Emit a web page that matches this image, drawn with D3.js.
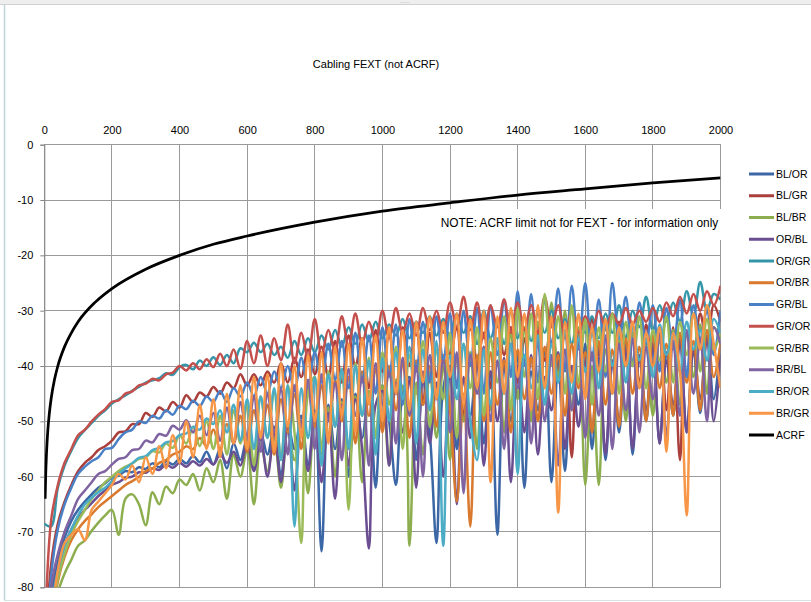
<!DOCTYPE html>
<html><head><meta charset="utf-8">
<script src="https://cdn.jsdelivr.net/npm/d3@7"></script>
<style>body{margin:0;background:#fff}svg{display:block}</style>
</head><body><svg id="c" width="811" height="602"></svg>
<script>
// ---- data ----
const freqs = d3.range(0, 2001, 20); // MHz, 101 points
const xTicks = [0,200,400,600,800,1000,1200,1400,1600,1800,2000];
const yTicks = [0,-10,-20,-30,-40,-50,-60,-70,-80];
const seriesNames = ["BL/OR","BL/GR","BL/BR","OR/BL","OR/GR","OR/BR","GR/BL","GR/OR","GR/BR","BR/BL","BR/OR","BR/GR"];
const seriesColors = ["#3C67A6","#AA3F3C","#8CAE4E","#6B4E92","#3596AA","#D8792E","#4A80C6","#C4504D","#9BBB59","#8064A2","#4BACC6","#F79646"];

const BL_OR = [-97,-82,-75.5,-71,-68,-66,-64.5,-63.2,-62,-61.2,
-60.2,-59.8,-59,-59.2,-58.3,-58.6,-57.6,-58.3,-57.2,-57.8,
-56.8,-57.6,-56.2,-57.4,-55.5,-57.8,-55,-58.5,-54,-57,
-53,-58.5,-52,-56,-51,-60,-50.5,-55,-49,-58,
-48,-73.5,-47,-55,-46,-60,-45,-53,-44.5,-62,
-43.5,-50,-61.5,-45,-42,-57,-43,-52,-72,-44,
-40,-55,-42.5,-49,-39,-54,-41,-70.5,-40,-50,
-38,-62,-41,-48,-37,-61,-39,-59,-40,-47,
-36,-55,-38.5,-57,-39,-52,-35.5,-56,-38,-50,
-36,-54,-37.5,-49,-35,-52,-37,-48.5,-34.5,-46,
-36];
const BL_GR = [-95,-76,-68.5,-64.5,-61.5,-59,-57.5,-56.5,-55.2,-54.5,
-53.5,-52,-51.8,-50.5,-50.5,-48.5,-49.2,-47.5,-48.2,-46.5,
-47.5,-45.3,-46.5,-44.8,-45.5,-43.8,-45,-43,-44,-41.5,
-43.5,-41.5,-43.5,-41,-43,-39.5,-43,-38.5,-42,-37,
-41.5,-36.5,-42,-35.5,-43,-34.5,-40,-35,-44,-33.5,
-41,-34,-45,-33,-40,-32,-47,-34,-42,-31.5,
-38,-33,-50,-31,-39,-34,-44,-31.5,-38,-33,
-43,-35,-48,-34,-39,-32,-41,-33.5,-56.5,-34,
-40,-31.5,-38,-33,-45,-32,-39,-34,-43,-32.5,
-40,-35,-48,-33,-57,-34,-38,-30.5,-36,-29,
-32];
const BL_BR = [-99,-88,-81,-77.5,-75,-72.5,-71.5,-69.8,-68.3,-67,
-66,-70.5,-64,-63.2,-65,-68.8,-62.8,-65,-61.8,-63,
-60.5,-61.5,-59.5,-62.5,-58.5,-61,-57,-64,-56,-60,
-55,-65,-54,-59,-53,-62,-51.5,-57,-50.5,-63,
-49,-56,-47.5,-60,-46.5,-55,-45.5,-61,-44.5,-53,
-43.5,-58,-42.5,-44,-72.5,-43,-56,-41,-53,-40,
-57,-38.5,-50,-37.5,-55,-36.5,-48,-35,-52,-34,
-46,-33,-50,-32,-44,-28.5,-42,-30,-48,-33,
-61.5,-40,-61.5,-37,-45,-35,-50,-34,-44,-36,
-49,-35,-43,-33.5,-47,-34,-42,-32.5,-45,-33,
-35];
const OR_BL = [-99,-84,-77,-72.5,-69.5,-67.5,-66,-64.8,-63.5,-62.5,
-61.5,-61,-60.2,-60,-59.2,-59.3,-58.5,-58.8,-57.8,-58.4,
-57.5,-58.2,-57.2,-58,-56.8,-57.8,-56,-57.5,-55.5,-58,
-54,-59,-53,-60,-52,-61,-51,-62.5,-50,-59,
-49,-61,-48.5,-64,-47,-58,-46,-55,-73,-47,
-44.5,-58,-43,-52,-42.5,-62,-41,-54,-43,-60,
-40.5,-65,-42,-53,-39.5,-58,-41,-50,-38.5,-61,
-40,-52,-38,-56,-42,-48,-37.5,-55,-40,-51,
-38,-52,-36.5,-56,-39,-50,-37,-55,-38.5,-48,
-36,-54,-39,-47,-35.5,-52,-37,-46,-35,-50,
-38];
const OR_GR = [-68.5,-69,-62,-58,-55.3,-53,-51.6,-50.3,-49,-48,
-46.8,-46,-45.3,-44.5,-43.8,-43,-42.6,-42.2,-41.3,-41.6,
-40.2,-39.8,-40.6,-39,-40,-38.4,-39.8,-38,-39.5,-36.8,
-37.5,-35.8,-37.5,-36,-38,-36.5,-38.5,-35.5,-38,-35,
-37.5,-34.5,-37,-33.5,-36.5,-33,-36,-32.5,-35.5,-32,
-35,-32.5,-34.5,-31.5,-35,-32,-34,-31,-34.5,-31.5,
-35,-30.5,-34,-31,-36,-30,-35,-31.5,-36,-30,
-35,-31,-35.5,-30.5,-34,-30,-35,-31.5,-36,-31,
-34,-31,-35,-30.5,-34,-29,-35,-30,-33,-27.5,
-33.5,-29,-32,-28.5,-32,-26.5,-31,-24.8,-30,-27,
-28];
const OR_BR = [-98,-88,-79,-74.5,-71.5,-69.5,-68,-66.8,-65.5,-64.5,
-63.5,-62.5,-61.5,-60.8,-60,-59,-58.5,-57.5,-57,-56,
-55.5,-54.5,-55,-53,-54.5,-51.5,-55,-50.5,-54,-49,
-55.5,-48,-53,-47,-56,-46,-52,-45,-55,-44,
-51,-43.5,-53,-42.5,-50,-42,-54,-41,-49,-40.5,
-52,-40,-48,-39.5,-53,-39,-47,-40,-51,-38,
-48,-64.5,-45,-69,-38,-50,-37.5,-47,-39,-52,
-37,-46,-38.5,-50,-36.5,-45,-38,-49,-36,-44,
-37.5,-52,-35.5,-47,-37,-51,-35,-45,-36.5,-50,
-34.5,-44,-36,-49,-34,-43,-35.5,-48,-33.5,-42,
-36];
const GR_BL = [-98,-78,-69.5,-65,-62,-59.5,-58.2,-57.2,-56.5,-55,
-54.8,-53.2,-52,-51.5,-50,-50.3,-49,-49.5,-48,-48.8,
-47.2,-47.8,-46.3,-47.2,-45.5,-46.5,-44.5,-46.5,-44,-45.5,
-43,-45.5,-42,-45,-41,-44,-40,-44.5,-38.5,-44,
-37.5,-43,-36,-42.5,-35.5,-44,-34,-43,-34.5,-45,
-33,-42,-32.5,-47,-31.5,-41,-32,-43,-31,-39,
-30.5,-44,-30,-40,-29.5,-45,-29,-38,-28,-42,
-26.5,-40,-27,-43,-28,-36,-26,-41,-25.5,-37,
-25,-39,-28,-42,-25,-35,-27.5,-40,-28.5,-36,
-29,-41,-29.5,-37,-28,-42,-29,-35,-30,-38,
-30];
const GR_OR = [-92,-68,-61.5,-57.5,-55,-52.5,-51.5,-50,-48.8,-47.8,
-46.5,-46.2,-45,-44.6,-43.5,-43.2,-42.3,-42.6,-41.5,-41.2,
-40,-40.8,-39.5,-40.6,-38.8,-40.2,-37.8,-40,-37,-40.5,
-35.5,-39.5,-34.5,-40,-35,-39,-32.5,-39.5,-34,-38.5,
-31.5,-38,-33.5,-37.5,-31,-36.5,-30.5,-36,-32,-35.5,
-30,-35,-29.5,-34,-30.5,-34.5,-29.5,-33.5,-30,-34,
-28.5,-33,-27.5,-33.5,-28.5,-35,-29,-33,-28,-34,
-28.5,-33.5,-29,-34,-27.5,-33,-29,-35,-30,-34,
-31,-33.5,-30,-33,-30.5,-32.5,-29.5,-32.5,-30,-32,
-29.5,-32,-28.5,-31,-27.5,-30.5,-27,-30,-26.5,-29,
-25.5];
const GR_BR = [-100,-86,-78.5,-74,-70.5,-68,-66,-64,-62.5,-61,
-60,-59,-58.2,-57.6,-56.8,-56.5,-55.4,-55.6,-54,-54.8,
-52.5,-54,-51,-54.5,-50,-55,-49,-56,-48,-54,
-47,-58,-45.5,-53,-44.5,-57,-43.5,-52,-72,-45,
-42,-55,-41,-51,-40.5,-66,-39.5,-49,-38.5,-53,
-37.5,-47,-36.5,-55,-38,-45,-35.5,-51,-37,-46,
-34,-53,-36,-44,-33,-49,-35,-43,-31,-48,
-29.5,-42,-30.5,-46,-27,-40,-31,-45,-29,-43,
-31.5,-47,-33,-41,-30.5,-45,-32,-40,-31,-44,
-33.5,-39,-31,-43,-32,-38,-30.5,-41,-31.5,-37,
-34];
const BR_BL = [-98,-80,-74,-70,-67,-64,-62.5,-61,-59.5,-59,
-57.8,-56.8,-56.5,-55.2,-55,-53.5,-53.8,-52.3,-52.6,-50.8,
-51.5,-49.8,-52,-49,-52.5,-48.5,-53.5,-47.5,-54,-46.5,
-53,-45.5,-55.5,-45,-52,-44,-56,-43.5,-51,-42.5,
-55,-41.5,-50,-43,-57,-40.5,-49,-42,-58,-39.5,
-47,-41,-54,-38.5,-49,-40,-60,-38,-46,-39,
-52,-37.5,-63,-38,-45,-36.5,-50,-39,-55,-36,
-44,-38.5,-54,-35.5,-50,-38,-58,-37,-48,-35,
-53,-37.5,-49,-34.5,-55,-36,-48,-35,-52,-36.5,
-46,-34,-53,-35.5,-49,-33.5,-45,-35,-50,-33,
-36];
const BR_OR = [-96,-84,-77,-72.5,-69.5,-67,-65,-63.8,-62.8,-62,
-60.8,-59.5,-58.5,-57.6,-56.6,-56.3,-55.2,-54.8,-53.8,-53.6,
-52.5,-52.2,-51,-51.5,-49.5,-50.5,-48,-52,-47,-53.5,
-46,-55,-45.5,-53,-44,-57,-43.5,-69,-44,-53,
-42,-58,-41.5,-51,-40.5,-55,-40,-49,-39,-56,
-38.5,-50,-37.5,-46,-36.5,-54,-37,-48,-35.5,-72.5,
-38,-46,-36,-50,-57,-37,-47,-35,-45,-36,
-59.5,-38,-44,-34.5,-47,-36,-43,-33.5,-45,-35,
-41,-34,-44,-32.5,-40,-34,-43,-33,-39,-35,
-42,-32.5,-38,-34,-41,-32,-37,-33.5,-39,-31.5,
-34];
const BR_GR = [-95,-86,-77,-72,-70.5,-69.5,-71.5,-66,-64.5,-63,
-61.5,-59.5,-60.5,-58,-61,-56.5,-59.5,-54.5,-58.5,-52.5,
-57.5,-50,-56.5,-47,-55,-46,-56.5,-45,-54,-43.5,
-55,-42,-53,-41.5,-55.5,-39.5,-51,-40,-53,-38,
-50,-37.5,-54,-36.5,-49,-36,-52,-35,-47,-34.5,
-50,-33,-45,-33.5,-48,-32,-43,-31,-46,-32,
-42,-30.5,-47,-31.5,-44,-30,-61,-31,-45,-29.5,
-42,-30.5,-48,-29,-44,-31,-66.5,-32,-43,-30.5,
-46,-33,-41,-31.5,-45,-33,-40,-32,-44,-34,
-40,-33,-55.5,-34,-41,-67,-30.5,-37,-29,-36,
-44];
const seriesValues = [BL_OR,BL_GR,BL_BR,OR_BL,OR_GR,OR_BR,GR_BL,GR_OR,GR_BR,BR_BL,BR_OR,BR_GR];

const acrfFreq = [2.5,4,6,8,10,15,20,30,40,60,80,100,150,200,300,400,500,600,800,1000,1200,1400,1600,1800,2000];
const acrfValues = [-64,-60,-56.5,-54,-52,-48.5,-46,-42.5,-40,-36.5,-34,-32,-28.5,-26,-22.5,-20,-18,-16.5,-14,-12,-10.5,-9.1,-8,-6.9,-6];

const titleText = "Cabling FEXT (not ACRF)";
const noteText = "NOTE: ACRF limit not for FEXT - for information only";

// ---- drawing ----
const svg = d3.select("#c");
const FONT = "'Liberation Sans', Arial, sans-serif";
const x = d3.scaleLinear().domain([0,2000]).range([44.3,720.5]);
const y = d3.scaleLinear().domain([-80,0]).range([587.3,144.7]);
const fmt = d => String(d);

// frame
svg.append("rect").attr("width",811).attr("height",602).attr("fill","#fff");
svg.append("rect").attr("x",0).attr("y",0).attr("width",811).attr("height",4).attr("fill","#EEEEEE");
svg.append("line").attr("x1",0).attr("x2",811).attr("y1",4.5).attr("y2",4.5).attr("stroke","#D0D0D0");
svg.append("line").attr("x1",4.5).attr("x2",4.5).attr("y1",5).attr("y2",600).attr("stroke","#BFD6D9").attr("stroke-width",1.5);
svg.append("line").attr("x1",4).attr("x2",811).attr("y1",600.5).attr("y2",600.5).attr("stroke","#D6E3E5");
svg.append("text").attr("x",405).attr("y",4).attr("text-anchor","middle").attr("font-size",6).attr("fill","#888").attr("font-family",FONT).text("·····");

// title
svg.append("text").attr("x",376).attr("y",68).attr("text-anchor","middle")
  .attr("font-family",FONT).attr("font-size",11).attr("fill","#000").text(titleText);

// grid
const grid = svg.append("g").attr("stroke","#9A9A9A").attr("stroke-width",1).attr("shape-rendering","crispEdges");
grid.selectAll("line.v").data(xTicks).join("line").attr("class","v")
  .attr("x1",d=>x(d)).attr("x2",d=>x(d)).attr("y1",y(0)).attr("y2",y(-80));
grid.selectAll("line.h").data(yTicks).join("line").attr("class","h")
  .attr("x1",x(0)).attr("x2",x(2000)).attr("y1",d=>y(d)).attr("y2",d=>y(d));

// axes
const topAxis = svg.append("g").attr("transform",`translate(0,${y(0)})`)
  .call(d3.axisTop(x).tickValues(xTicks).tickSize(0).tickPadding(11).tickFormat(fmt));
topAxis.select(".domain").remove();
topAxis.selectAll("text").attr("font-family",FONT).attr("font-size",11).attr("fill","#000");

const leftAxis = svg.append("g").attr("transform",`translate(${x(0)},0)`)
  .call(d3.axisLeft(y).tickValues(yTicks).tickSize(4).tickPadding(7).tickFormat(fmt));
leftAxis.select(".domain").attr("stroke","#868686");
leftAxis.selectAll(".tick line").attr("stroke","#868686");
leftAxis.selectAll("text").attr("font-family",FONT).attr("font-size",11).attr("fill","#000");

// note box
svg.append("rect").attr("x",437).attr("y",209).attr("width",286).attr("height",31).attr("fill","#fff");
const note = svg.append("text").attr("x",440.7).attr("y",226.5)
  .attr("font-family",FONT).attr("font-size",11).attr("fill","#000").text(noteText);
const nw = note.node().getComputedTextLength();
note.attr("font-size", 11*278/nw);

// clip
svg.append("clipPath").attr("id","plotclip").append("rect")
  .attr("x",x(0)).attr("y",y(0)).attr("width",x(2000)-x(0)).attr("height",y(-80)-y(0));

const line = d3.line().x(d=>x(d[0])).y(d=>y(d[1])).curve(d3.curveCatmullRom.alpha(0.5));
const plot = svg.append("g").attr("clip-path","url(#plotclip)");
seriesValues.forEach((vals,k)=>{
  const pts = vals.map((v,i)=>[freqs[i],v]);
  plot.append("path").attr("d",line(pts)).attr("fill","none")
    .attr("stroke",seriesColors[k]).attr("stroke-width",2.5).attr("stroke-linejoin","round");
});
const acrfLine = d3.line().x(d=>x(d[0])).y(d=>y(d[1])).curve(d3.curveMonotoneX);
plot.append("path").attr("d",acrfLine(acrfFreq.map((f,i)=>[f,acrfValues[i]])))
  .attr("fill","none").attr("stroke","#000").attr("stroke-width",2.75);

// legend
const legNames = seriesNames.concat(["ACRF"]);
const legColors = seriesColors.concat(["#000"]);
const leg = svg.append("g");
legNames.forEach((n,i)=>{
  const yy = 174 + i*21.75;
  leg.append("line").attr("x1",749).attr("x2",774).attr("y1",yy).attr("y2",yy)
    .attr("stroke",legColors[i]).attr("stroke-width",3);
  leg.append("text").attr("x",776).attr("y",yy).attr("dy","0.35em")
    .attr("font-family",FONT).attr("font-size",10.5).attr("fill","#000").text(n);
});
</script>
</body></html>
